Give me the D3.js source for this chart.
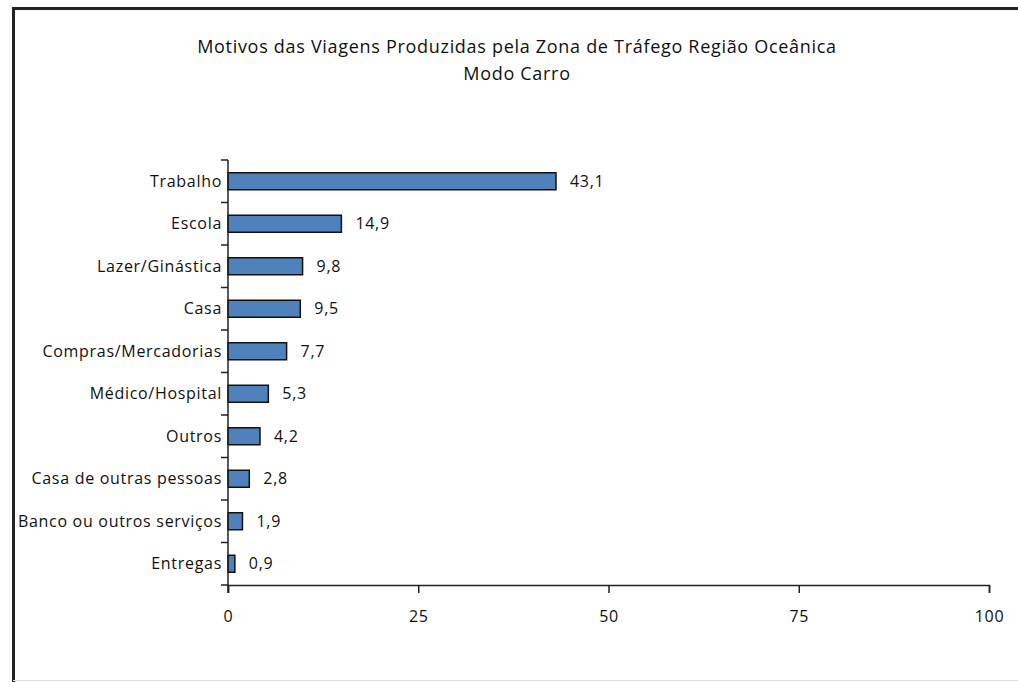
<!DOCTYPE html>
<html>
<head>
<meta charset="utf-8">
<script src="https://cdn.jsdelivr.net/npm/d3@7"></script>
<style>
  body { margin: 0; background: #fff; }
  text { font-family: "Open Sans", "DejaVu Sans Condensed", sans-serif; fill: #111; letter-spacing: 0.7px; }
</style>
</head>
<body>
<div id="chart"></div>
<script>
const width = 1018;
const height = 682;

const categories = ["Trabalho", "Escola", "Lazer/Ginástica", "Casa", "Compras/Mercadorias",
  "Médico/Hospital", "Outros", "Casa de outras pessoas", "Banco ou outros serviços", "Entregas"];
const values = [43.1, 14.9, 9.8, 9.5, 7.7, 5.3, 4.2, 2.8, 1.9, 0.9];
const xTicks = [0, 25, 50, 75, 100];
const titleLines = ["Motivos das Viagens Produzidas pela Zona de Tráfego Região Oceânica", "Modo Carro"];

const margin = {top: 160, left: 228, right: 29, bottom: 97};

const svg = d3.select("#chart").append("svg")
    .attr("width", width)
    .attr("height", height);

// frame round the chart
svg.append("path")
    .attr("d", "M13.5," + height + "V8.5H" + width)
    .attr("fill", "none")
    .attr("stroke", "#222")
    .attr("stroke-width", 3);
svg.append("line")
    .attr("x1", 13).attr("x2", width)
    .attr("y1", 680.5).attr("y2", 680.5)
    .attr("stroke", "#ddd");

svg.append("g").selectAll("text")
    .data(titleLines)
    .enter()
    .append("text")
    .attr("x", 517)
    .attr("y", (d, i) => 53 + i * 27)
    .attr("text-anchor", "middle")
    .attr("font-size", 18)
    .text(d => d);

const x = d3.scaleLinear()
    .domain([0, 100])
    .range([margin.left, width - margin.right]);

const y = d3.scaleBand()
    .domain(categories)
    .range([margin.top, height - margin.bottom])
    .paddingInner(0.6)
    .paddingOuter(0.3);

const data = categories.map((c, i) => ({name: c, value: values[i]}));

svg.append("g").selectAll("rect")
    .data(data)
    .enter()
    .append("rect")
    .attr("x", x(0))
    .attr("y", d => y(d.name))
    .attr("width", d => x(d.value) - x(0))
    .attr("height", y.bandwidth())
    .attr("fill", "#4f81bd")
    .attr("stroke", "#111")
    .attr("stroke-width", 1.5);

svg.append("g").selectAll("text")
    .data(data)
    .enter()
    .append("text")
    .attr("x", d => x(d.value) + 14)
    .attr("y", d => y(d.name) + y.bandwidth() / 2)
    .attr("dy", "0.35em")
    .attr("font-size", 16)
    .text(d => d3.format(".1f")(d.value).replace(".", ","));

// x axis
const xAxis = svg.append("g")
    .attr("transform", "translate(0," + (height - margin.bottom) + ")")
    .call(d3.axisBottom(x).tickValues(xTicks).tickSize(8).tickPadding(18).tickFormat(d3.format("d")));
xAxis.select(".domain").attr("stroke", "#222").attr("stroke-width", 1.5);
xAxis.selectAll(".tick line").attr("stroke", "#222").attr("stroke-width", 1.5);
xAxis.selectAll("text").attr("font-size", 16).attr("fill", "#111").style("font-family", null);
xAxis.attr("font-family", null);

// y axis, ticks between the categories
const bandEdges = categories.map(c => y(c) - y.step() * y.paddingInner() / 2).concat([height - margin.bottom]);
const yAxis = svg.append("g");
yAxis.append("line")
    .attr("x1", x(0)).attr("x2", x(0))
    .attr("y1", margin.top).attr("y2", height - margin.bottom + 8)
    .attr("stroke", "#222")
    .attr("stroke-width", 1.5);
yAxis.selectAll(".ytick")
    .data(bandEdges)
    .enter()
    .append("line")
    .attr("x1", x(0) - 7).attr("x2", x(0))
    .attr("y1", d => d).attr("y2", d => d)
    .attr("stroke", "#222")
    .attr("stroke-width", 1.5);
yAxis.selectAll("text")
    .data(categories)
    .enter()
    .append("text")
    .attr("x", x(0) - 6)
    .attr("y", d => y(d) + y.bandwidth() / 2)
    .attr("dy", "0.35em")
    .attr("text-anchor", "end")
    .attr("font-size", 16)
    .text(d => d);
</script>
</body>
</html>
